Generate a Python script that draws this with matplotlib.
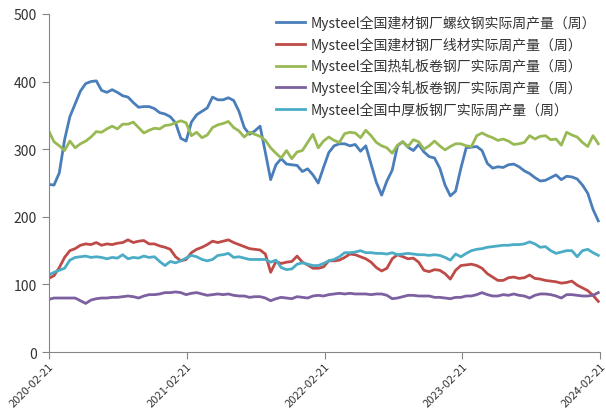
import numpy as np
import pandas as pd
import matplotlib
matplotlib.use("Agg")
import matplotlib.pyplot as plt
import matplotlib.dates as mdates

plt.rcParams['font.family'] = ['Noto Sans CJK SC', 'DejaVu Sans']

# biweekly sampling of the weekly series, 2020-02-21 .. 2024-02
dates = pd.date_range("2020-02-21", periods=105, freq="14D")

rebar = [248, 247, 265, 314, 348, 367, 386, 397, 400, 401, 387, 384, 388, 384, 379,
         377, 369, 362, 363, 363, 360, 354, 352, 348, 339, 316, 312, 340, 351, 356,
         361, 377, 373, 373, 376, 372, 356, 332, 322, 327, 334, 295, 255, 277, 286,
         278, 277, 276, 267, 271, 262, 250, 273, 295, 305, 308, 308, 305, 307, 297,
         305, 278, 251, 232, 253, 269, 305, 311, 303, 298, 307, 296, 289, 287, 272,
         247, 231, 238, 272, 302, 303, 304, 298, 279, 272, 274, 273, 277, 278, 274,
         268, 264, 258, 253, 254, 258, 262, 255, 260, 259, 256, 247, 235, 211, 194]

wire = [109, 113, 125, 140, 150, 153, 158, 160, 159, 162, 158, 160, 159, 161, 162,
        166, 162, 164, 165, 160, 160, 157, 155, 152, 141, 135, 137, 147, 152, 155,
        159, 164, 162, 164, 166, 162, 159, 156, 153, 152, 151, 145, 118, 134, 131,
        133, 134, 142, 133, 129, 124, 124, 126, 135, 135, 136, 140, 145, 144, 141,
        138, 133, 125, 120, 124, 138, 144, 141, 138, 139, 133, 121, 119, 122, 121,
        116, 108, 121, 128, 129, 130, 128, 124, 116, 111, 106, 106, 110, 111, 109,
        110, 114, 109, 108, 106, 105, 104, 102, 103, 105, 99, 95, 91, 84, 75]

hot_rolled = [327, 311, 305, 298, 312, 302, 308, 312, 318, 326, 325, 330, 334, 330, 337,
              337, 340, 332, 324, 328, 331, 330, 335, 336, 339, 342, 339, 320, 325, 317,
              321, 332, 336, 338, 341, 332, 327, 318, 325, 322, 319, 313, 302, 294, 287,
              298, 286, 296, 298, 310, 322, 302, 312, 318, 313, 310, 323, 325, 324, 317,
              328, 320, 310, 305, 302, 294, 306, 311, 304, 314, 311, 300, 305, 312, 305,
              299, 304, 308, 308, 305, 304, 320, 324, 320, 317, 313, 315, 312, 307, 308,
              310, 320, 315, 319, 320, 314, 315, 306, 325, 321, 318, 310, 304, 320, 308]

cold_rolled = [78, 80, 80, 80, 80, 80, 76, 72, 77, 79, 80, 80, 81, 81, 82,
               83, 82, 80, 83, 85, 85, 86, 88, 88, 89, 88, 85, 87, 88, 86,
               84, 85, 86, 85, 86, 84, 83, 83, 81, 82, 82, 80, 76, 79, 81,
               80, 79, 82, 81, 80, 83, 84, 83, 85, 86, 87, 86, 87, 86, 86,
               86, 85, 86, 86, 84, 79, 80, 82, 84, 84, 83, 83, 83, 81, 81,
               80, 79, 81, 81, 83, 83, 85, 88, 85, 83, 83, 85, 84, 86, 84,
               83, 80, 84, 86, 86, 85, 83, 80, 85, 85, 84, 83, 83, 84, 88]

plate = [114, 118, 121, 124, 136, 140, 141, 142, 140, 141, 140, 138, 140, 139, 144,
         138, 140, 139, 142, 140, 141, 134, 128, 134, 132, 135, 139, 143, 141, 137,
         135, 137, 143, 144, 146, 140, 141, 139, 137, 137, 137, 137, 133, 136, 125,
         122, 123, 130, 132, 130, 128, 128, 131, 135, 137, 141, 147, 147, 148, 150,
         147, 147, 146, 146, 145, 147, 144, 145, 146, 145, 144, 144, 143, 144, 143,
         140, 136, 145, 141, 146, 150, 152, 153, 155, 156, 157, 158, 158, 159, 159,
         160, 163, 160, 155, 156, 150, 146, 148, 150, 150, 141, 150, 152, 147, 143]

labels = ["Mysteel全国建材钢厂螺纹钢实际周产量（周）",
          "Mysteel全国建材钢厂线材实际周产量（周）",
          "Mysteel全国热轧板卷钢厂实际周产量（周）",
          "Mysteel全国冷轧板卷钢厂实际周产量（周）",
          "Mysteel全国中厚板钢厂实际周产量（周）"]
colors = ["#4A7EBB", "#BE4B48", "#98B954", "#7D60A0", "#4BACC6"]
series = [rebar, wire, hot_rolled, cold_rolled, plate]

tick_dates = pd.to_datetime(["2020-02-21", "2021-02-21", "2022-02-21",
                             "2023-02-21", "2024-02-21"])

fig = plt.figure(figsize=(6.06, 4.14), dpi=100)
ax = fig.add_axes([0.0804, 0.147, 0.910, 0.817])

for vals, c, lab in zip(series, colors, labels):
    ax.plot(dates, vals, color=c, lw=2.0, label=lab)

ax.set_ylim(0, 500)
ax.set_yticks(range(0, 501, 100))
ax.set_xlim(tick_dates[0], tick_dates[-1])
ax.set_xticks(tick_dates)
ax.xaxis.set_major_formatter(mdates.DateFormatter("%Y-%m-%d"))
for t in ax.get_xticklabels():
    t.set_rotation(45)
    t.set_ha("right")
    t.set_rotation_mode("anchor")

for s in ["top", "right"]:
    ax.spines[s].set_visible(False)
for s in ["left", "bottom"]:
    ax.spines[s].set_color("#868686")
ax.tick_params(axis="both", colors="#868686", labelcolor="#333333", length=5)
ax.tick_params(axis="y", labelsize=10)
ax.tick_params(axis="x", labelsize=8, pad=1)

fig.legend(loc="upper left", bbox_to_anchor=(0.455, 0.962), frameon=False,
           fontsize=10, handlelength=2.1, handletextpad=0.4, labelspacing=0.47,
           borderpad=0, borderaxespad=0, labelcolor="#333333")

fig.savefig("out.png", dpi=100)
